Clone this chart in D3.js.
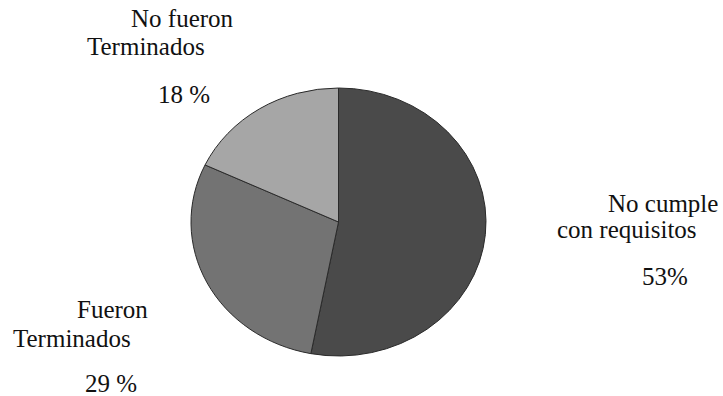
<!DOCTYPE html>
<html>
<head>
<meta charset="utf-8">
<script src="https://cdn.jsdelivr.net/npm/d3@7"></script>
<style>
  html, body { margin: 0; padding: 0; background: #fff; }
  svg { display: block; }
  text { font-family: "Liberation Serif", "Times New Roman", serif; fill: #111; }
</style>
</head>
<body>
<svg id="chart" width="723" height="396"></svg>
<script>
// Estado de los trabajos
const categories = ["No cumple con requisitos", "Fueron Terminados", "No fueron Terminados"];
const values = [53, 29, 18];
const valueLabels = ["53%", "29 %", "18 %"];
const labelLines = [["No cumple", "con requisitos"], ["Fueron", "Terminados"], ["No fueron", "Terminados"]];
const colors = ["#4a4a4a", "#737373", "#a6a6a6"];

const svg = d3.select("#chart");
const cx = 338.5, cy = 222, rx = 147.5, ry = 134;

const pie = d3.pie().sort(null).value(d => d)(values);
const arc = d3.arc().innerRadius(0).outerRadius(ry);

const g = svg.append("g")
  .attr("transform", `translate(${cx},${cy}) scale(${rx / ry},1)`);

g.selectAll("path")
  .data(pie)
  .join("path")
  .attr("d", arc)
  .attr("fill", (d, i) => colors[i])
  .attr("stroke", "#2a2a2a")
  .attr("stroke-width", 1)
  .attr("vector-effect", "non-scaling-stroke");

// Etiquetas: líneas de texto y porcentaje
const labelPos = [
  { lines: [[608, 212], [557, 238]], pct: [642, 285] },
  { lines: [[77, 317.5], [13, 347]], pct: [85, 392] },
  { lines: [[131, 27], [87, 55]], pct: [158, 103] }
];

const fs = 25;
labelPos.forEach((p, i) => {
  labelLines[i].forEach((t, j) => {
    svg.append("text")
      .attr("x", p.lines[j][0])
      .attr("y", p.lines[j][1])
      .attr("font-size", fs)
      .text(t);
  });
  svg.append("text")
    .attr("x", p.pct[0])
    .attr("y", p.pct[1])
    .attr("font-size", fs)
    .text(valueLabels[i]);
});
</script>
</body>
</html>
